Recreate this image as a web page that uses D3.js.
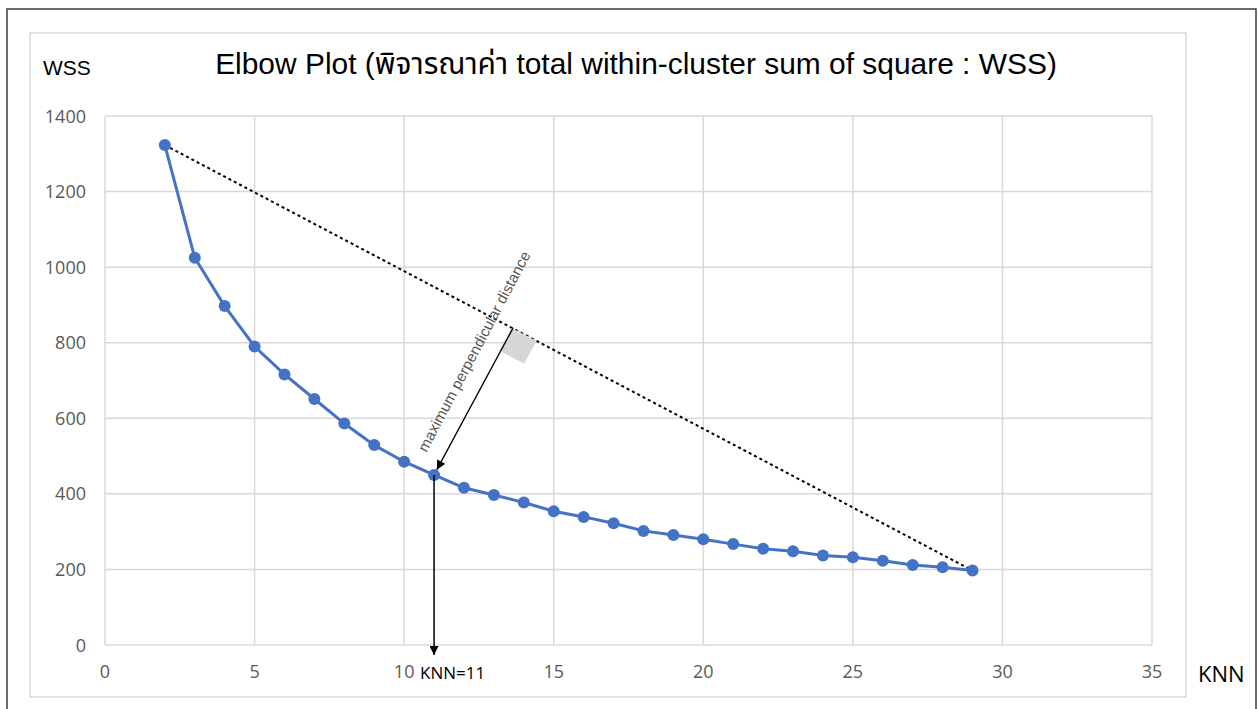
<!DOCTYPE html>
<html>
<head>
<meta charset="utf-8">
<script src="https://cdn.jsdelivr.net/npm/d3@7"></script>
<style>
  html, body { margin: 0; padding: 0; background: #fff; }
  svg { display: block; }
</style>
</head>
<body>
<div id="chart"></div>
<script>
// data
const knn = [2, 3, 4, 5, 6, 7, 8, 9, 10, 11, 12, 13, 14, 15, 16, 17, 18, 19, 20, 21, 22, 23, 24, 25, 26, 27, 28, 29];
const wss = [1323, 1025, 897, 790, 716, 651, 586, 529, 485, 450, 416, 397, 377, 354, 339, 322, 302, 291, 280, 267, 255, 248, 237, 232, 223, 212, 206, 197];
const xTicks = [0, 5, 10, 15, 20, 25, 30, 35];
const yTicks = [0, 200, 400, 600, 800, 1000, 1200, 1400];
const elbowK = 11;
const titleText = "Elbow Plot (พิจารณาค่า total within-cluster sum of square : WSS)";
const noteText = "maximum perpendicular distance";

const W = 1258, H = 709;
const svg = d3.select("#chart").append("svg")
    .attr("width", W)
    .attr("height", H);

// frames
svg.append("rect")
    .attr("x", 7).attr("y", 9)
    .attr("width", 1249).attr("height", 720)
    .attr("fill", "none").attr("stroke", "#3a3a3a").attr("stroke-width", 1.5);
svg.append("rect")
    .attr("x", 30).attr("y", 33)
    .attr("width", 1156).attr("height", 664)
    .attr("fill", "none").attr("stroke", "#d9d9d9").attr("stroke-width", 1.5);

const x = d3.scaleLinear().domain([0, 35]).range([105, 1152]);
const y = d3.scaleLinear().domain([0, 1400]).range([645, 116]);

// grid
svg.append("g").selectAll("line")
    .data(yTicks)
    .join("line")
    .attr("x1", x(0)).attr("x2", x(35))
    .attr("y1", d => y(d)).attr("y2", d => y(d))
    .attr("stroke", "#d9d9d9").attr("stroke-width", 1.5);
svg.append("g").selectAll("line")
    .data(xTicks)
    .join("line")
    .attr("y1", y(0)).attr("y2", y(1400))
    .attr("x1", d => x(d)).attr("x2", d => x(d))
    .attr("stroke", "#d9d9d9").attr("stroke-width", 1.5);

// tick labels
svg.append("g").selectAll("text")
    .data(yTicks)
    .join("text")
    .attr("x", 86).attr("y", d => y(d) + 6.5)
    .attr("text-anchor", "end")
    .attr("font-family", "'Open Sans', sans-serif")
    .attr("font-size", 18).attr("fill", "#595959")
    .text(d => d);
svg.append("g").selectAll("text")
    .data(xTicks)
    .join("text")
    .attr("x", d => x(d)).attr("y", 678)
    .attr("text-anchor", "middle")
    .attr("font-family", "'Open Sans', sans-serif")
    .attr("font-size", 18).attr("fill", "#595959")
    .text(d => d);

// axis titles + chart title
svg.append("text")
    .attr("x", 43).attr("y", 75)
    .attr("font-family", "'Liberation Sans', Arial, sans-serif")
    .attr("font-size", 21).attr("fill", "#000")
    .text("WSS");
svg.append("text")
    .attr("x", 1198).attr("y", 682)
    .attr("font-family", "'Open Sans', sans-serif")
    .attr("font-size", 22).attr("fill", "#000")
    .text("KNN");
const title = svg.append("text")
    .attr("x", 636).attr("y", 74)
    .attr("text-anchor", "middle")
    .attr("font-family", "'Liberation Sans', 'Noto Sans Thai', 'DejaVu Sans', sans-serif")
    .attr("font-size", 28).attr("fill", "#000")
    .text(titleText);
const tl = title.node().getComputedTextLength();
title.attr("font-size", Math.min(31, 28 * 842 / tl));

// dotted chord from first to last point
const A = [x(knn[0]), y(wss[0])];
const B = [x(knn[knn.length - 1]), y(wss[wss.length - 1])];
svg.append("line")
    .attr("x1", A[0]).attr("y1", A[1])
    .attr("x2", B[0]).attr("y2", B[1])
    .attr("stroke", "#000").attr("stroke-width", 2)
    .attr("stroke-dasharray", "3,3");

// perpendicular foot from the elbow point
const ei = knn.indexOf(elbowK);
const P = [x(knn[ei]), y(wss[ei])];
const dx = B[0] - A[0], dy = B[1] - A[1];
const dl = Math.hypot(dx, dy);
const dh = [dx / dl, dy / dl];
const t = (P[0] - A[0]) * dh[0] + (P[1] - A[1]) * dh[1];
const F = [A[0] + t * dh[0], A[1] + t * dh[1]];
const pl = Math.hypot(P[0] - F[0], P[1] - F[1]);
const toP = [(P[0] - F[0]) / pl, (P[1] - F[1]) / pl];

// right-angle square
const s1 = 28, s2 = 26;
svg.append("path")
    .attr("d", "M" + F + "L" + [F[0] + dh[0] * s1, F[1] + dh[1] * s1] +
        "L" + [F[0] + dh[0] * s1 + toP[0] * s2, F[1] + dh[1] * s1 + toP[1] * s2] +
        "L" + [F[0] + toP[0] * s2, F[1] + toP[1] * s2] + "Z")
    .attr("fill", "#d6d6d6");

// series line + markers
svg.append("path")
    .datum(knn.map((k, i) => [k, wss[i]]))
    .attr("fill", "none")
    .attr("stroke", "#4472C4").attr("stroke-width", 3)
    .attr("d", d3.line().x(d => x(d[0])).y(d => y(d[1])));
svg.append("g").selectAll("circle")
    .data(knn.map((k, i) => [k, wss[i]]))
    .join("circle")
    .attr("cx", d => x(d[0])).attr("cy", d => y(d[1]))
    .attr("r", 6).attr("fill", "#4472C4");

// arrowheads
const defs = svg.append("defs");
defs.append("marker")
    .attr("id", "arrow")
    .attr("viewBox", "0 0 10 10")
    .attr("refX", 10).attr("refY", 5)
    .attr("markerWidth", 10).attr("markerHeight", 9)
    .attr("markerUnits", "userSpaceOnUse")
    .attr("orient", "auto")
    .append("path")
    .attr("d", "M0,0L10,5L0,10Z")
    .attr("fill", "#000");

// perpendicular arrow
const tip = [P[0] - toP[0] * 6, P[1] - toP[1] * 6];
svg.append("line")
    .attr("x1", F[0] - toP[0] * 3).attr("y1", F[1] - toP[1] * 3 + 3)
    .attr("x2", tip[0]).attr("y2", tip[1])
    .attr("stroke", "#000").attr("stroke-width", 1.3)
    .attr("marker-end", "url(#arrow)");

// vertical arrow down to the axis
svg.append("line")
    .attr("x1", P[0]).attr("y1", P[1])
    .attr("x2", P[0]).attr("y2", y(0) + 10)
    .attr("stroke", "#000").attr("stroke-width", 1.5)
    .attr("marker-end", "url(#arrow)");

svg.append("text")
    .attr("x", 420).attr("y", 679)
    .attr("font-family", "'Open Sans', sans-serif")
    .attr("font-size", 17).attr("fill", "#000")
    .text("KNN=" + elbowK);

// rotated note along the arrow, on its upper-left side
const ang = Math.atan2(-toP[1], -toP[0]) * 180 / Math.PI;
const along = 128, off = 17;
const mid = [P[0] - toP[0] * along, P[1] - toP[1] * along];
const left = [-Math.abs(toP[1]), -Math.abs(toP[0])];
svg.append("text")
    .attr("text-anchor", "middle")
    .attr("font-family", "'Liberation Sans', Arial, sans-serif")
    .attr("font-size", 15).attr("fill", "#555")
    .attr("textLength", 224)
    .attr("lengthAdjust", "spacingAndGlyphs")
    .attr("transform", "translate(" + (mid[0] + left[0] * off) + "," + (mid[1] + left[1] * off) + ") rotate(" + ang + ")")
    .text(noteText);
</script>
</body>
</html>
